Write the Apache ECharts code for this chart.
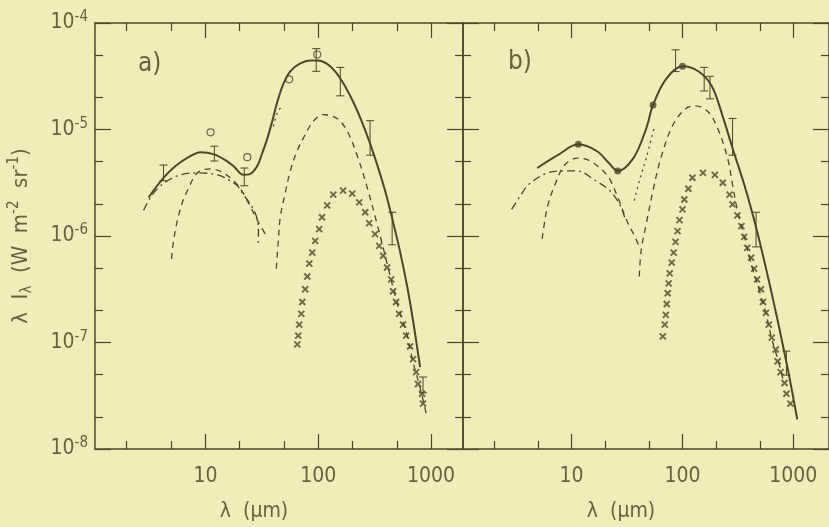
<!DOCTYPE html>
<html><head><meta charset="utf-8">
<script src="https://cdn.jsdelivr.net/npm/echarts@6/dist/echarts.min.js"></script>
<style>html,body{margin:0;padding:0;background:#f2ecba}#c{width:829px;height:527px}</style>
</head><body><div id="c"></div>
<script>
// ---------- tick values ----------
const xMajor = [10, 100, 1000];
const xMinor = [2, 5, 20, 50, 200, 500];
const yMajor = [1e-8, 1e-7, 1e-6, 1e-5, 1e-4];
const yMinor = [2e-8, 5e-8, 2e-7, 5e-7, 2e-6, 5e-6, 2e-5, 5e-5];

// ---------- panel a ----------
const aSolidX = [3.13,4.25,5.43,7.08,9.03,11.8,15.0,17.7,21.7,25.0,28.8,31.9,35.4,39.2,43.4,49.0,56.5,69.3,85.0,100,118,141,173,212,261,319,391,461,532,614,693,800];
const aSolidY = [2.30e-6,3.52e-6,4.54e-6,5.5e-6,6.12e-6,5.87e-6,5.16e-6,4.54e-6,3.75e-6,3.83e-6,4.54e-6,6.0e-6,8.26e-6,1.21e-5,1.82e-5,2.67e-5,3.52e-5,4.17e-5,4.45e-5,4.45e-5,4.17e-5,3.52e-5,2.55e-5,1.67e-5,9.8e-6,5.38e-6,2.67e-6,1.35e-6,7.1e-7,3.37e-7,1.60e-7,5.87e-8];
const aDash1X = [5.0,5.2,5.65,6.25,6.93,8.5,11.1,14.4,19.2,23.5,28.8,34.0];
const aDash1Y = [6.1e-7,8.8e-7,1.41e-6,2.07e-6,2.67e-6,3.92e-6,4.27e-6,3.92e-6,3.03e-6,2.15e-6,1.41e-6,1.04e-6];
const aDashDotX = [2.83,3.26,4.0,5.65,8.5,12.8,16.0,19.2,21.7,26.0,28.8,29.5,29.3];
const aDashDotY = [1.74e-6,2.30e-6,2.96e-6,3.67e-6,3.92e-6,3.75e-6,3.37e-6,2.96e-6,2.45e-6,1.86e-6,1.44e-6,1.04e-6,8.4e-7];
const aDash2X = [42.5,44.2,46.1,51.0,56.5,63.8,73.6,90.3,111,147,181,221,272,333,408,500,614,693,800,923];
const aDash2Y = [4.94e-7,8.8e-7,1.50e-6,2.55e-6,4.08e-6,6.0e-6,8.26e-6,1.19e-5,1.38e-5,1.27e-5,9.6e-6,5.74e-6,2.84e-6,1.29e-6,5.5e-7,2.34e-7,1.16e-7,6.53e-8,3.75e-8,1.98e-8];
const aDotX = [40.0,43.4,48.0];
const aDotY = [1.07e-5,1.44e-5,1.67e-5];
const aCrossX = [65.2,66.5,67.9,70.8,72.2,76.7,80.0,83.3,88.5,94.0,102,108,120,136,166,200,231,261,283,319,347,376,408,443,461,490,521,565,601,652,693,737,767,833,849];
const aCrossY = [9.6e-8,1.16e-7,1.47e-7,1.86e-7,2.40e-7,3.16e-7,4.17e-7,5.5e-7,6.97e-7,9.0e-7,1.16e-6,1.50e-6,1.94e-6,2.45e-6,2.67e-6,2.50e-6,2.07e-6,1.67e-6,1.32e-6,1.04e-6,8.08e-7,6.53e-7,5.06e-7,3.92e-7,3.03e-7,2.40e-7,1.86e-7,1.47e-7,1.16e-7,9.2e-8,6.97e-8,5.27e-8,4.08e-8,3.30e-8,2.67e-8];
const aCircX = [11.1,23.5,55.3,98];
const aCircY = [9.4e-6,5.5e-6,2.96e-5,5.06e-5];
const aErrX  = [4.25,12.0,22.1,96,157,288,452,849];
const aErrLo = [3.30e-6,5.06e-6,2.96e-6,3.52e-5,2.07e-5,5.74e-6,8.26e-7,3.37e-8];
const aErrHi = [4.64e-6,6.97e-6,4.35e-6,5.74e-5,3.83e-5,1.21e-5,1.67e-6,4.74e-8];

// ---------- panel b ----------
const bSolidX = [4.9,7.5,11.5,17.0,21.7,26.1,36.1,47.1,54.3,70.8,100,139,184,231,283,361,461,626,866,1084];
const bSolidY = [4.35e-6,5.74e-6,7.26e-6,6.25e-6,4.84e-6,4.08e-6,5.38e-6,1.02e-5,1.70e-5,2.96e-5,3.92e-5,3.52e-5,2.55e-5,1.32e-5,6.67e-6,3.03e-6,1.21e-6,3.16e-7,6.53e-8,1.90e-8];
const bDash1X = [5.43,5.77,6.14,7.08,8.67,11.3,14.7,20.8,25.5,31.3,36.1,40.8];
const bDash1Y = [9.4e-7,1.44e-6,1.98e-6,3.03e-6,4.64e-6,5.38e-6,5.06e-6,3.75e-6,2.45e-6,1.41e-6,1.05e-6,8.0e-7];
const bDashDotX = [2.88,3.47,4.08,5.77,8.0,11.3,16.0,22.1,27.2,30.1];
const bDashDotY = [1.78e-6,2.40e-6,3.03e-6,3.83e-6,4.08e-6,4.08e-6,3.37e-6,2.67e-6,1.98e-6,1.50e-6];
const bDash2X = [40.8,42.5,47.1,54.3,63.8,81.6,106,130,170,208,255,283,313,361,416,490,565,638,737,816];
const bDash2Y = [4.17e-7,7.4e-7,1.29e-6,2.67e-6,5.38e-6,1.09e-5,1.56e-5,1.67e-5,1.47e-5,1.02e-5,5.38e-6,3.03e-6,1.74e-6,9.8e-7,5.5e-7,3.16e-7,1.90e-7,1.09e-7,6.53e-8,4.27e-8];
const bDotX = [36.8,40.0,47.1,55.3];
const bDotY = [2.15e-6,3.03e-6,5.38e-6,1.02e-5];
const bCrossX = [66.5,69.3,70.8,72.2,73.6,75.1,76.7,80.0,83.3,86.7,90.3,94.0,100,104,113,123,153,196,231,266,283,313,340,361,384,416,443,471,510,532,565,601,638,693,722,767,833,866,940];
const bCrossY = [1.14e-7,1.47e-7,1.82e-7,2.30e-7,2.90e-7,3.59e-7,4.45e-7,5.62e-7,6.97e-7,8.8e-7,1.11e-6,1.41e-6,1.78e-6,2.20e-6,2.78e-6,3.52e-6,3.92e-6,3.75e-6,3.16e-6,2.45e-6,1.98e-6,1.56e-6,1.24e-6,9.8e-7,7.74e-7,6.25e-7,4.94e-7,3.92e-7,3.16e-7,2.40e-7,1.90e-7,1.47e-7,1.11e-7,8.6e-8,6.67e-8,5.27e-8,4.17e-8,3.30e-8,2.67e-8];
const bFillX = [11.5,26.1,54.3,100];
const bFillY = [7.26e-6,4.08e-6,1.70e-5,3.92e-5];
const bErrX  = [86.7,157,177,283,461,866];
const bErrLo = [3.5e-5,2.30e-5,1.94e-5,5.74e-6,7.9e-7,4.94e-8];
const bErrHi = [5.6e-5,3.83e-5,3.16e-5,1.27e-5,1.67e-6,8.3e-8];

// ---------- style ----------
const FONT = '"DejaVu Sans Condensed","Liberation Sans Narrow",sans-serif';
const INK = '#4c472a';
const TXT = '#67623f';
const XMIN = 1.05, XMAX_A = 1920, XMAX_B = 2096;
const YMIN = 1e-8, YMAX = 1e-4;

const xAxes = [], yAxes = [];
function tickStyle(len, vals){ return {show:true, inside:true, length:len, customValues:vals, lineStyle:{color:INK, width:1.2}}; }
function addAxes(g, xmax, leftLabels){
  const cx = {type:'log', logBase:10, gridIndex:g, min:XMIN, max:xmax, splitLine:{show:false}, minorTick:{show:false}};
  const lineOn = {show:true, onZero:false, lineStyle:{color:INK, width:1.5}};
  const lineOff = {show:false, onZero:false};
  const xb = xAxes.length;
  xAxes.push(Object.assign({}, cx, {position:'bottom', axisLine:lineOn, axisTick:tickStyle(15, xMajor),
    axisLabel:{show:true, customValues:xMajor, margin:17, fontSize:21, color:TXT, fontFamily:FONT, formatter:v=>String(Math.round(v))},
    name:'λ  (μm)', nameLocation:'middle', nameGap:52,
    nameTextStyle:{fontSize:21, color:TXT, fontFamily:FONT, padding:[0,50,0,0]}}));
  xAxes.push(Object.assign({}, cx, {position:'bottom', axisLine:lineOff, axisTick:tickStyle(8, xMinor), axisLabel:{show:false}}));
  xAxes.push(Object.assign({}, cx, {position:'top', axisLine:lineOn, axisTick:tickStyle(15, xMajor), axisLabel:{show:false}}));
  xAxes.push(Object.assign({}, cx, {position:'top', axisLine:lineOff, axisTick:tickStyle(8, xMinor), axisLabel:{show:false}}));
  const cy = {type:'log', logBase:10, gridIndex:g, min:YMIN, max:YMAX, splitLine:{show:false}, minorTick:{show:false}};
  const yb = yAxes.length;
  const leftMajor = Object.assign({}, cy, {position:'left', axisLine:lineOn, axisTick:tickStyle(16, yMajor), axisLabel:{show:false}});
  if (leftLabels) {
    leftMajor.axisLabel = {show:true, customValues:yMajor, margin:7, formatter:v=>'{b|10}{s|' + Math.round(Math.log10(v)) + '}',
      rich:{b:{fontSize:21, color:TXT, fontFamily:FONT, lineHeight:26}, s:{fontSize:15, color:TXT, fontFamily:FONT, verticalAlign:'top', lineHeight:16}}};
    leftMajor.name = '{n|λ  I}{sub|λ}{n|  (W  m}{sup|-2}{n|  sr}{sup|-1}{n|)}';
    leftMajor.nameLocation = 'middle';
    leftMajor.nameGap = 60;
    leftMajor.nameTextStyle = {rich:{
      n:{fontSize:22, color:TXT, fontFamily:FONT, lineHeight:28},
      sub:{fontSize:15, color:TXT, fontFamily:FONT, verticalAlign:'bottom', lineHeight:15},
      sup:{fontSize:15, color:TXT, fontFamily:FONT, verticalAlign:'top', lineHeight:15}}};
  }
  yAxes.push(leftMajor);
  yAxes.push(Object.assign({}, cy, {position:'left', axisLine:lineOff, axisTick:tickStyle(8, yMinor), axisLabel:{show:false}}));
  yAxes.push(Object.assign({}, cy, {position:'right', axisLine:lineOn, axisTick:tickStyle(16, yMajor), axisLabel:{show:false}}));
  yAxes.push(Object.assign({}, cy, {position:'right', axisLine:lineOff, axisTick:tickStyle(8, yMinor), axisLabel:{show:false}}));
  return [xb, yb];
}
const [axA, ayA] = addAxes(0, XMAX_A, true);
const [axB, ayB] = addAxes(1, XMAX_B, false);

const zip = (xs, ys) => xs.map((x, i) => [x, ys[i]]);
function line(xi, yi, xs, ys, type, width){
  return {type:'line', xAxisIndex:xi, yAxisIndex:yi, data:zip(xs, ys), showSymbol:false, smooth:0.35, silent:true,
    lineStyle:{color:INK, width:width, type:type, cap:'butt'}, z:3};
}
function crosses(xi, yi, xs, ys){
  return {type:'scatter', xAxisIndex:xi, yAxisIndex:yi, data:zip(xs, ys), symbol:'path://M0,0L10,10M10,0L0,10', symbolSize:6,
    itemStyle:{color:'rgba(0,0,0,0)', borderColor:INK, borderWidth:1.9}, silent:true, z:4};
}
function errbars(xi, yi, xs, lo, hi){
  return {type:'custom', xAxisIndex:xi, yAxisIndex:yi, data:xs.map((x,i)=>[x, lo[i], hi[i]]), encode:{x:0, y:[1,2]}, silent:true, z:5,
    renderItem:(params, api) => {
      const p1 = api.coord([api.value(0), api.value(1)]);
      const p2 = api.coord([api.value(0), api.value(2)]);
      const w = 4, st = {stroke:INK, lineWidth:1};
      return {type:'group', children:[
        {type:'line', shape:{x1:p1[0], y1:p1[1], x2:p2[0], y2:p2[1]}, style:st},
        {type:'line', shape:{x1:p2[0]-w, y1:p2[1], x2:p2[0]+w, y2:p2[1]}, style:st},
        {type:'line', shape:{x1:p1[0]-w, y1:p1[1], x2:p1[0]+w, y2:p1[1]}, style:st}
      ]};
    }};
}

const series = [
  line(axA, ayA, aSolidX, aSolidY, 'solid', 2),
  line(axA, ayA, aDash1X, aDash1Y, [6,5], 1.3),
  line(axA, ayA, aDash2X, aDash2Y, [6,5], 1.3),
  line(axA, ayA, aDashDotX, aDashDotY, [8,4,2,4], 1.3),
  line(axA, ayA, aDotX, aDotY, [2,4], 1.3),
  crosses(axA, ayA, aCrossX, aCrossY),
  errbars(axA, ayA, aErrX, aErrLo, aErrHi),
  {type:'scatter', xAxisIndex:axA, yAxisIndex:ayA, data:zip(aCircX, aCircY), symbol:'circle', symbolSize:7,
    itemStyle:{color:'rgba(0,0,0,0)', borderColor:INK, borderWidth:1.2}, silent:true, z:6},
  line(axB, ayB, bSolidX, bSolidY, 'solid', 2),
  line(axB, ayB, bDash1X, bDash1Y, [6,5], 1.3),
  line(axB, ayB, bDash2X, bDash2Y, [6,5], 1.3),
  line(axB, ayB, bDashDotX, bDashDotY, [8,4,2,4], 1.3),
  line(axB, ayB, bDotX, bDotY, [2,4], 1.3),
  crosses(axB, ayB, bCrossX, bCrossY),
  errbars(axB, ayB, bErrX, bErrLo, bErrHi),
  {type:'scatter', xAxisIndex:axB, yAxisIndex:ayB, data:zip(bFillX, bFillY), symbol:'circle', symbolSize:7,
    itemStyle:{color:INK}, silent:true, z:6}
];

const chart = echarts.init(document.getElementById('c'), null, {renderer:'canvas'});
chart.setOption({
  backgroundColor:'#f2ecba',
  animation:false,
  title:[
    {text:'a)', left:133, top:46, textStyle:{fontSize:26, fontWeight:'normal', color:TXT, fontFamily:FONT}},
    {text:'b)', left:503, top:44, textStyle:{fontSize:26, fontWeight:'normal', color:TXT, fontFamily:FONT}}
  ],
  grid:[
    {left:95, top:23, width:368, height:432, containLabel:false},
    {left:463, top:23, width:373, height:432, containLabel:false}
  ],
  xAxis:xAxes,
  yAxis:yAxes,
  series:series
});
</script></body></html>
